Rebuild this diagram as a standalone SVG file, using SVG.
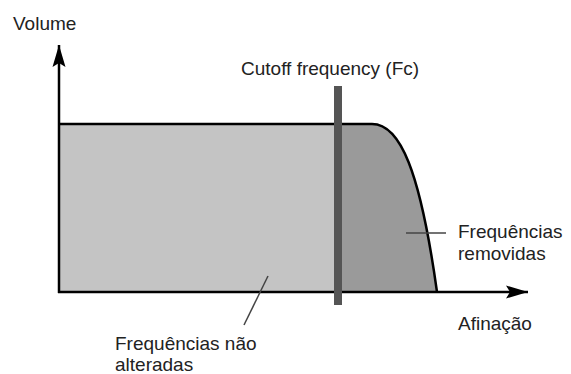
<svg xmlns="http://www.w3.org/2000/svg" width="571" height="374" viewBox="0 0 571 374">
<style>
.t{font-family:"Liberation Sans",Arial,sans-serif;font-size:19px;fill:#222}
.ax{stroke:#000;stroke-width:2.5;fill:none}
.lead{stroke:#444;stroke-width:1.5;fill:none}
</style>
<defs>
<marker id="ah" markerUnits="userSpaceOnUse" markerWidth="24" markerHeight="14" refX="22" refY="7" orient="auto">
<path d="M0,0.5 L22,7 L0,13.5 L4,7 Z" fill="#000"/>
</marker>
</defs>
<g id="areas">
<rect x="59" y="124" width="279" height="168" fill="#c4c4c4"/>
<path d="M338,124 L372,124 C400,124 420,170 437,292 L338,292 Z" fill="#9a9a9a"/>
<path d="M59,124 L372,124 C400,124 420,170 437,292" class="ax"/>
</g>
<g id="connectors">
<path d="M59,293 L59,45" class="ax" marker-end="url(#ah)"/>
<path d="M58,292 L528,292" class="ax" marker-end="url(#ah)"/>
<line x1="406" y1="233" x2="446" y2="233" class="lead"/>
<line x1="268" y1="276" x2="244" y2="325" class="lead"/>
</g>
<g id="cutoff">
<rect x="334" y="86" width="8" height="219" fill="#555"/>
</g>
<g id="labels">
<text class="t" x="13" y="30">Volume</text>
<text class="t" x="241" y="75">Cutoff frequency (Fc)</text>
<text class="t" x="458" y="238">Frequências</text>
<text class="t" x="458" y="260">removidas</text>
<text class="t" x="458" y="330">Afinação</text>
<text class="t" x="115" y="350">Frequências não</text>
<text class="t" x="115" y="371">alteradas</text>
</g>
</svg>
